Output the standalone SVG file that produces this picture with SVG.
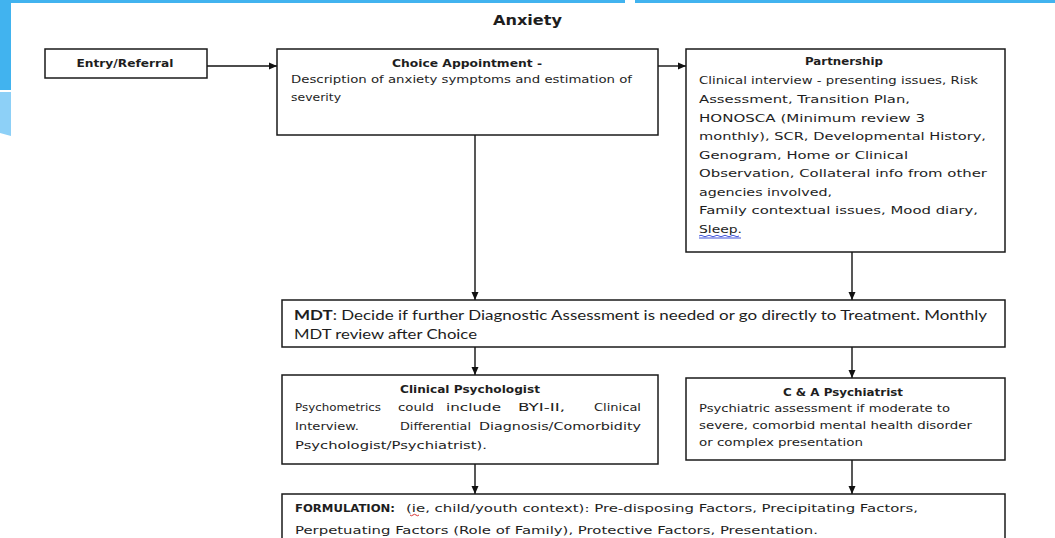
<svg xmlns="http://www.w3.org/2000/svg" width="1055" height="538" viewBox="0 0 1055 538">
<style>
.box{fill:#fff;stroke:#1a1a1a;stroke-width:1.5}
.t{font-family:"DejaVu Sans",Verdana,sans-serif;fill:#1e1e1e;font-size:11px}
.s{font-size:10.5px}
.b{font-weight:bold}
.m{font-family:Lato,"Liberation Sans",sans-serif;font-size:12.5px;fill:#1e1e1e}
.conn line{stroke:#111;stroke-width:1.4;marker-end:url(#ah)}
</style>
<defs>
<marker id="ah" markerUnits="userSpaceOnUse" markerWidth="8" markerHeight="8" refX="8" refY="4" orient="auto">
<path d="M0,0.5 L8,4 L0,7.5 z" fill="#111"/>
</marker>
</defs>
<rect width="1055" height="538" fill="#fff"/>
<g id="decor">
<rect x="0" y="0" width="1055" height="3" fill="#41b3ef"/>
<rect x="625" y="0" width="10" height="3" fill="#fff"/>
<rect x="0" y="0" width="11" height="90" fill="#41b3ef"/>
<path d="M0,92 H11 V136 L0,133 z" fill="#8dd0f7"/>
</g>
<text class="t b" x="527.5" y="25" text-anchor="middle" textLength="69" lengthAdjust="spacingAndGlyphs" style="font-size:14px">Anxiety</text>
<g id="connectors" class="conn">
<line x1="207" y1="66" x2="277" y2="66"/>
<line x1="658" y1="66" x2="686" y2="66"/>
<line x1="475" y1="135" x2="475" y2="300"/>
<line x1="852" y1="252" x2="852" y2="300"/>
<line x1="475" y1="347" x2="475" y2="375"/>
<line x1="852" y1="347" x2="852" y2="378"/>
<line x1="475" y1="464" x2="475" y2="494"/>
<line x1="852" y1="460" x2="852" y2="494"/>
</g>
<g id="entry">
<rect class="box" x="45" y="49" width="162" height="29"/>
<text class="t b s" x="125" y="67" text-anchor="middle" textLength="97" lengthAdjust="spacingAndGlyphs">Entry/Referral</text>
</g>
<g id="choice">
<rect class="box" x="277" y="49" width="381" height="86"/>
<text class="t b s" x="467" y="67" text-anchor="middle" textLength="150" lengthAdjust="spacingAndGlyphs">Choice Appointment -</text>
<text class="t s" x="291" y="83" textLength="341" lengthAdjust="spacingAndGlyphs">Description of anxiety symptoms and estimation of</text>
<text class="t s" x="291" y="101" textLength="50" lengthAdjust="spacingAndGlyphs">severity</text>
</g>
<g id="partnership">
<rect class="box" x="686" y="49" width="319" height="203"/>
<text class="t b s" x="844" y="65" text-anchor="middle" textLength="78" lengthAdjust="spacingAndGlyphs">Partnership</text>
<text class="t" x="699" y="84" textLength="279" lengthAdjust="spacingAndGlyphs">Clinical interview - presenting issues, Risk</text>
<text class="t" x="699" y="103" textLength="211" lengthAdjust="spacingAndGlyphs">Assessment, Transition Plan,</text>
<text class="t" x="699" y="121.5" textLength="226" lengthAdjust="spacingAndGlyphs">HONOSCA (Minimum review 3</text>
<text class="t" x="699" y="140" textLength="287" lengthAdjust="spacingAndGlyphs">monthly), SCR, Developmental History,</text>
<text class="t" x="699" y="159" textLength="209" lengthAdjust="spacingAndGlyphs">Genogram, Home or Clinical</text>
<text class="t" x="699" y="177" textLength="288" lengthAdjust="spacingAndGlyphs">Observation, Collateral info from other</text>
<text class="t" x="699" y="195.5" textLength="133" lengthAdjust="spacingAndGlyphs">agencies involved,</text>
<text class="t" x="699" y="214" textLength="279" lengthAdjust="spacingAndGlyphs">Family contextual issues, Mood diary,</text>
<text class="t" x="699" y="233" textLength="43" lengthAdjust="spacingAndGlyphs">Sleep.</text>
<path d="M699,236 q2,-1.5 4,0 t4,0 t4,0 t4,0 t4,0 t4,0 t4,0 t4,0 t4,0 t4,0 M699,238 H741" fill="none" stroke="#2a3fd6" stroke-width="0.9"/>
</g>
<g id="mdt">
<rect class="box" x="282" y="300" width="723" height="47"/>
<text class="m" x="294" y="320" textLength="693" lengthAdjust="spacingAndGlyphs"><tspan font-weight="bold">MDT</tspan>: Decide if further Diagnostic Assessment is needed or go directly to Treatment. Monthly</text>
<text class="m" x="294" y="339" textLength="183" lengthAdjust="spacingAndGlyphs">MDT review after Choice</text>
</g>
<g id="clinical-psychologist">
<rect class="box" x="282" y="375" width="376" height="89"/>
<text class="t b s" x="470" y="393" text-anchor="middle" textLength="140" lengthAdjust="spacingAndGlyphs">Clinical Psychologist</text>
<text class="t" x="295" y="411" textLength="86" lengthAdjust="spacingAndGlyphs">Psychometrics</text>
<text class="t" x="398" y="411" textLength="36" lengthAdjust="spacingAndGlyphs">could</text>
<text class="t" x="446" y="411" textLength="55" lengthAdjust="spacingAndGlyphs">include</text>
<text class="t" x="518" y="411" textLength="47" lengthAdjust="spacingAndGlyphs">BYI-II,</text>
<text class="t" x="594" y="411" textLength="47" lengthAdjust="spacingAndGlyphs">Clinical</text>
<text class="t" x="295" y="430" textLength="64" lengthAdjust="spacingAndGlyphs">Interview.</text>
<text class="t" x="400" y="430" textLength="71" lengthAdjust="spacingAndGlyphs">Differential</text>
<text class="t" x="479" y="430" textLength="162" lengthAdjust="spacingAndGlyphs">Diagnosis/Comorbidity</text>
<text class="t" x="295" y="449" textLength="192" lengthAdjust="spacingAndGlyphs">Psychologist/Psychiatrist).</text>
</g>
<g id="ca-psychiatrist">
<rect class="box" x="686" y="378" width="319" height="82"/>
<text class="t b s" x="843" y="396" text-anchor="middle" textLength="120" lengthAdjust="spacingAndGlyphs">C &amp; A Psychiatrist</text>
<text class="t s" x="699" y="412" textLength="251" lengthAdjust="spacingAndGlyphs">Psychiatric assessment if moderate to</text>
<text class="t s" x="699" y="429" textLength="273" lengthAdjust="spacingAndGlyphs">severe, comorbid mental health disorder</text>
<text class="t s" x="699" y="446" textLength="164" lengthAdjust="spacingAndGlyphs">or complex presentation</text>
</g>
<g id="formulation">
<rect class="box" x="282" y="494" width="723" height="70"/>
<text class="t b" x="295" y="512" textLength="100" lengthAdjust="spacingAndGlyphs">FORMULATION:</text>
<text class="t" x="406" y="512" textLength="512" lengthAdjust="spacingAndGlyphs">(ie, child/youth context): Pre-disposing Factors, Precipitating Factors,</text>
<path d="M410,515 q1.5,1.5 3,0 t3,0 t3,0" fill="none" stroke="#d42020" stroke-width="0.9"/>
<text class="t" x="295" y="534" textLength="523" lengthAdjust="spacingAndGlyphs">Perpetuating Factors (Role of Family), Protective Factors, Presentation.</text>
</g>
</svg>
